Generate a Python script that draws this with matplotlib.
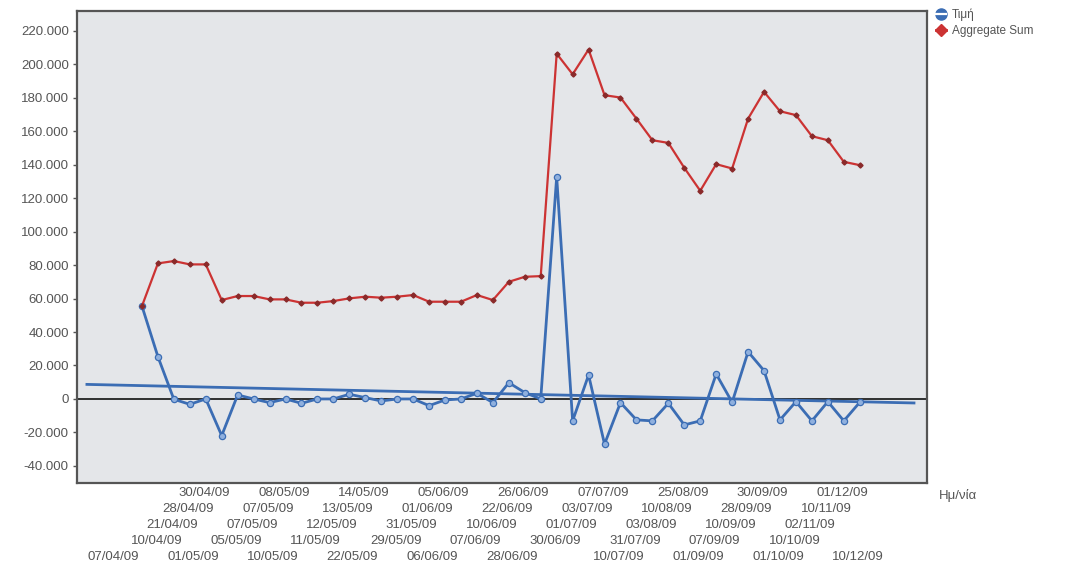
import matplotlib
matplotlib.use("Agg")
import matplotlib.pyplot as plt
from matplotlib.lines import Line2D
from matplotlib.legend_handler import HandlerTuple
import numpy as np

plt.rcParams['font.family'] = ['Liberation Sans', 'DejaVu Sans']

dates = ["07/04/09", "10/04/09", "21/04/09", "28/04/09", "30/04/09",
         "01/05/09", "05/05/09", "07/05/09", "07/05/09", "08/05/09",
         "10/05/09", "11/05/09", "12/05/09", "13/05/09", "14/05/09",
         "22/05/09", "29/05/09", "31/05/09", "01/06/09", "05/06/09",
         "06/06/09", "07/06/09", "10/06/09", "22/06/09", "26/06/09",
         "28/06/09", "30/06/09", "01/07/09", "03/07/09", "07/07/09",
         "10/07/09", "31/07/09", "03/08/09", "10/08/09", "25/08/09",
         "01/09/09", "07/09/09", "10/09/09", "28/09/09", "30/09/09",
         "01/10/09", "10/10/09", "02/11/09", "10/11/09", "01/12/09",
         "10/12/09"]

timi = [55500, 25300, -200, -3200, 0, -21900, 2400, 0, -2200, 0,
        -2600, 0, 0, 2800, 800, -1200, 0, 0, -4000, -600,
        0, 3400, -2200, 9700, 3800, 0, 132700, -13100, 14300, -27000,
        -2200, -12500, -13100, -2600, -15500, -13100, 14900, -2000, 28200, 16900,
        -12500, -1600, -13100, -1600, -13100, -2000]

aggregate = [55500, 81000, 82400, 80400, 80400, 59100, 61500, 61500, 59500, 59500,
             57500, 57500, 58500, 60100, 61100, 60500, 61100, 62100, 58100, 58100,
             58100, 62100, 59100, 70000, 73000, 73400, 206300, 194000, 208800, 181500,
             180100, 167500, 154600, 153000, 138100, 124400, 140300, 137700, 167500, 183500,
             171900, 169600, 157000, 154600, 141700, 139700]

trend_x = [-3.45, 48.4]
trend_y = [8700, -2400]

yticks = list(range(-40000, 220001, 20000))

BLUE = "#3b6db4"
RED = "#cc3333"
TXT = "#555555"

fig = plt.figure(figsize=(10.85, 5.8), dpi=100)
ax = fig.add_axes([0.071, 0.167, 0.783, 0.814])
ax.set_facecolor("#e4e6e9")

x = np.arange(len(dates))

ax.axhline(0, color="#222222", lw=1.3, zorder=2)
ax.plot(trend_x, trend_y, color=BLUE, lw=2.0, zorder=3)
ax.plot(x, timi, color=BLUE, lw=2.0, marker="o", ms=4.5,
        mfc="#8fb0de", mec=BLUE, mew=0.9, zorder=4)
ax.plot(x, aggregate, color=RED, lw=1.6, marker="D", ms=2.6,
        mfc="#8a2a2a", mec="#8a2a2a", zorder=5)

ax.set_xlim(-4.07, 49.19)
ax.set_ylim(-50300, 231800)
ax.set_yticks(yticks)
ax.set_yticklabels([("0" if v == 0 else f"{v:,.0f}".replace(",", ".")) for v in yticks],
                   fontsize=9.5, color=TXT)
ax.tick_params(axis="y", direction="out", length=3, width=1, color="#555555", pad=3)
ax.set_xticks([])

for sp in ax.spines.values():
    sp.set_color("#555555")
    sp.set_linewidth(1.6)

# staggered date labels (5 rows); first bottom-row labels sit shifted left
for i, d in enumerate(dates):
    r = i % 5
    dx = -0.1
    if r == 0 and i <= 25:
        dx = -1.8
    dy = -(7 + (4 - r) * 11.5)
    ax.annotate(d, xy=(x[i] + dx, 0), xycoords=ax.get_xaxis_transform(),
                xytext=(0, dy), textcoords="offset points",
                ha="center", va="center", fontsize=9.5, color=TXT,
                annotation_clip=False)

fig.text(958 / 1085, 1 - 495 / 580, "Ημ/νία", fontsize=9.5, color=TXT,
         ha="center", va="center")

h1 = (Line2D([], [], color="none", marker="o", ms=8, mfc=BLUE, mec=BLUE),
      Line2D([], [], color="white", lw=1.6))
h2 = (Line2D([], [], color=RED, lw=2),
      Line2D([], [], color="none", marker="D", ms=6, mfc=RED, mec=RED))
leg = fig.legend([h1, h2], ["Τιμή", "Aggregate Sum"], loc="upper left",
                 bbox_to_anchor=(0.858, 0.993), frameon=False, fontsize=8.5,
                 handlelength=0.9, handletextpad=0.5, labelspacing=0.35,
                 borderaxespad=0, handler_map={tuple: HandlerTuple(ndivide=1, pad=0)})
for t in leg.get_texts():
    t.set_color(TXT)

fig.savefig("out.png", dpi=100, facecolor="white")
